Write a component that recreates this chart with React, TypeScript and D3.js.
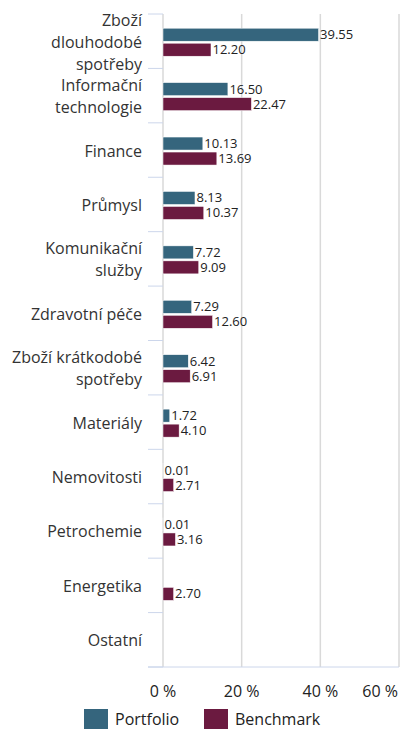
import * as d3 from "d3";
import React, {useRef, useEffect} from "react";

const categories = [
    ["Zboží", "dlouhodobé", "spotřeby"],
    ["Informační", "technologie"],
    ["Finance"],
    ["Průmysl"],
    ["Komunikační", "služby"],
    ["Zdravotní péče"],
    ["Zboží krátkodobé", "spotřeby"],
    ["Materiály"],
    ["Nemovitosti"],
    ["Petrochemie"],
    ["Energetika"],
    ["Ostatní"],
];
const portfolio = [39.55, 16.50, 10.13, 8.13, 7.72, 7.29, 6.42, 1.72, 0.01, 0.01, null, null];
const benchmark = [12.20, 22.47, 13.69, 10.37, 9.09, 12.60, 6.91, 4.10, 2.71, 3.16, 2.70, null];
const xTicks = [0, 20, 40, 60];
const seriesNames = ["Portfolio", "Benchmark"];
const seriesColors = ["#35657d", "#6b1a40"];

const FONT = "'Open Sans', sans-serif";

function App() {
    const ref = useRef(null);

    useEffect(() => {
        const svg = d3.select(ref.current);
        svg.selectAll("*").remove();

        const left = 163, right = 399, top = 14, bottom = 667;
        const names = categories.map(c => c.join(" "));

        const x = d3.scaleLinear().domain([0, 60]).range([left, right]);
        const y = d3.scaleBand().domain(names).range([top, bottom]);
        const barH = 13, gap = 2;

        // grid
        svg.append("g").selectAll("line")
            .data(xTicks)
            .enter().append("line")
            .attr("x1", d => x(d)).attr("x2", d => x(d))
            .attr("y1", top).attr("y2", bottom)
            .attr("stroke", "#d9d9d9")
            .attr("stroke-width", 1.5);

        // category ticks
        const bounds = names.map(n => y(n)).concat([bottom]);
        svg.append("g").selectAll("line")
            .data(bounds)
            .enter().append("line")
            .attr("x1", 148).attr("x2", left)
            .attr("y1", d => d).attr("y2", d => d)
            .attr("stroke", "#ccd6eb")
            .attr("stroke-width", 1);

        svg.append("line")
            .attr("x1", 148).attr("x2", right)
            .attr("y1", bottom).attr("y2", bottom)
            .attr("stroke", "#ccd6eb");

        // category labels
        const lineH = 22;
        categories.forEach((lines, i) => {
            const cy = y(names[i]) + y.bandwidth() / 2 + 1;
            const t = svg.append("text")
                .attr("text-anchor", "end")
                .attr("font-family", FONT)
                .attr("font-size", 16)
                .attr("fill", "#333");
            lines.forEach((l, j) => {
                t.append("tspan")
                    .attr("x", 142)
                    .attr("y", cy + (j - (lines.length - 1) / 2) * lineH + 5.5)
                    .text(l);
            });
        });

        // bars
        [portfolio, benchmark].forEach((vals, s) => {
            const g = svg.append("g");
            vals.forEach((v, i) => {
                if (v === null) return;
                const cy = y(names[i]) + y.bandwidth() / 2 + 1;
                const by = s === 0 ? cy - gap / 2 - barH : cy + gap / 2;
                g.append("rect")
                    .attr("x", x(0))
                    .attr("y", by)
                    .attr("width", Math.max(0, x(v) - x(0)))
                    .attr("height", barH)
                    .attr("fill", seriesColors[s])
                    .attr("stroke", "#fff")
                    .attr("stroke-width", 0.5);
                g.append("text")
                    .attr("x", x(v) + 1.5)
                    .attr("y", by + barH / 2 + 4.5)
                    .attr("font-family", FONT)
                    .attr("font-size", 13)
                    .attr("fill", "#222")
                    .text(v.toFixed(2));
            });
        });

        // x tick labels
        svg.append("g").selectAll("text")
            .data(xTicks)
            .enter().append("text")
            .attr("x", (d, i) => i === xTicks.length - 1 ? right - 1 : x(d))
            .attr("y", 697)
            .attr("text-anchor", (d, i) => i === xTicks.length - 1 ? "end" : "middle")
            .attr("font-family", FONT)
            .attr("font-size", 16)
            .attr("fill", "#222")
            .text(d => `${d} %`);

        // legend
        const legendX = [84, 204];
        seriesNames.forEach((n, i) => {
            svg.append("rect")
                .attr("x", legendX[i]).attr("y", 709)
                .attr("width", 24).attr("height", 20)
                .attr("fill", seriesColors[i]);
            svg.append("text")
                .attr("x", legendX[i] + 31).attr("y", 725)
                .attr("font-family", FONT)
                .attr("font-size", 16)
                .attr("fill", "#222")
                .text(n);
        });
    }, []);

    return (
        <svg ref={ref} width={400} height={729}
            style={{position: "absolute", left: 0, top: 0, background: "#fff"}} />
    );
}

export default App;
